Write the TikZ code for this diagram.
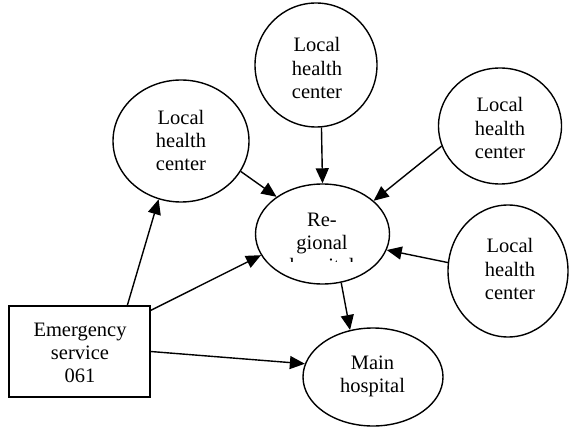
\documentclass[tikz,border=0pt]{standalone}
\usepackage{fontspec}
\setmainfont{Liberation Serif}
\usetikzlibrary{shapes.geometric,arrows.meta}
\tikzset{
  oval/.style={draw, line width=1.4pt, ellipse, inner sep=0pt},
  lbl/.style={align=center, inner sep=0pt, font=\fontsize{20.5}{23.3}\selectfont},
  conn/.style={line width=1.4pt, -{Triangle[length=15pt,width=13pt]}}
}
\begin{document}
\begin{tikzpicture}[x=1pt,y=-1pt]
\useasboundingbox (0,0) rectangle (569,427);
% shapes
\node[oval, minimum width=136pt, minimum height=122pt] (lhcL) at (181,141) {};
\node[oval, minimum width=122pt, minimum height=124pt] (lhcT) at (316,65) {};
\node[oval, minimum width=123pt, minimum height=116pt] (lhcR1) at (500,126) {};
\node[oval, minimum width=120pt, minimum height=132pt] (lhcR2) at (508,271) {};
\node[oval, minimum width=134pt, minimum height=100pt] (reg) at (322.5,234) {};
\node[oval, minimum width=140pt, minimum height=98pt] (main) at (373,377) {};
\node[draw, line width=1.4pt, rectangle, inner sep=0pt, minimum width=141pt, minimum height=91pt] (em) at (79.5,351.5) {};
% texts
\node[lbl] (tL) at (181,140.5) {Local\\health\\center};
\node[lbl] (tT) at (317,68) {Local\\health\\center};
\node[lbl] (tR1) at (500,128) {Local\\health\\center};
\node[lbl] (tR2) at (510,269) {Local\\health\\center};
\node[lbl] (tM) at (372.5,376.7) {Main\\hospital};
\node[lbl] (tE) at (80,353) {Emergency\\service\\061};
\begin{scope}
  \clip (0,0) rectangle (569,261);
  \node[lbl] (tReg) at (322,245) {Re-\\gional\\hospital};
\end{scope}
% connectors
\draw[conn] (em.44) -- (lhcL.249);
\draw[conn] (em.30) -- (reg.199);
\draw[conn] (em.0) -- (main.169);
\draw[conn] (lhcL.-27.6) -- (reg.141);
\draw[conn] (lhcT.275) -- (reg.90);
\draw[conn] (lhcR1.199.5) -- (reg.33);
\draw[conn] (lhcR2.172) -- (reg.-14.6);
\draw[conn] (reg.291.3) -- (main.116);
\end{tikzpicture}
\end{document}
